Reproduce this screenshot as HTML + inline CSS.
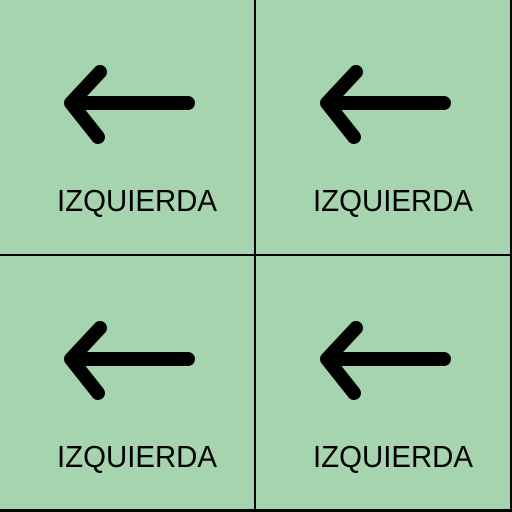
<!DOCTYPE html>
<html><head><meta charset="utf-8"><style>
html,body{margin:0;padding:0;background:#a5d4ae;}
svg{display:block;}
</style></head><body>
<svg width="512" height="512" viewBox="0 0 512 512">
<rect x="0" y="0" width="512" height="512" fill="#a5d4ae"/>
<g id="cells"></g>
<line x1="255" y1="0" x2="255" y2="512" stroke="#000" stroke-width="2"/>
<line x1="0" y1="255" x2="512" y2="255" stroke="#000" stroke-width="2"/>
<rect x="510" y="0" width="2" height="512" fill="#000"/>
<rect x="0" y="509" width="512" height="3" fill="#000"/>
</svg>
<script>
const labels = ["IZQUIERDA","IZQUIERDA","IZQUIERDA","IZQUIERDA"];
const offsets = [[0,0],[256,0],[0,256],[256,256]];
const g = document.getElementById('cells');
const NS = 'http://www.w3.org/2000/svg';
labels.forEach((lab,i)=>{
  const [dx,dy]=offsets[i];
  const cell=document.createElementNS(NS,'g');
  cell.setAttribute('transform',`translate(${dx},${dy})`);
  
  
  const p=document.createElementNS(NS,'path');
  p.setAttribute('d','M188 103 L74 103 M100 72 L71 103 L98 137');
  p.setAttribute('stroke','#000');p.setAttribute('stroke-width','14');
  p.setAttribute('stroke-linecap','round');p.setAttribute('stroke-linejoin','round');
  p.setAttribute('fill','none');
  
  
  cell.appendChild(p);
  const t=document.createElementNS(NS,'text');
  t.setAttribute('x',57);t.setAttribute('y',211);
  t.setAttribute('font-family','"Liberation Sans", sans-serif');
  t.setAttribute('font-size','31');
  t.setAttribute('textLength','160');t.setAttribute('lengthAdjust','spacingAndGlyphs');
  t.textContent=lab;
  
  
  cell.appendChild(t);
  g.appendChild(cell);
});
</script>
</body></html>
